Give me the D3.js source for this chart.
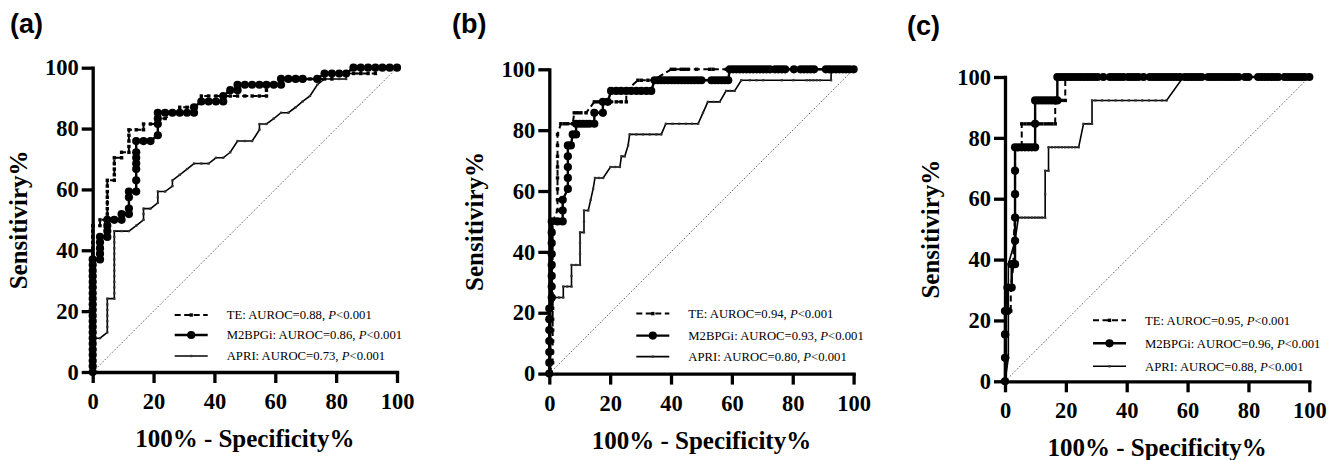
<!DOCTYPE html>
<html>
<head>
<meta charset="utf-8">
<script src="https://cdn.jsdelivr.net/npm/d3@7"></script>
<style>
	body { margin: 0; background: #fff; }
	svg { display: block; }
</style>
</head>
<body>
<svg id="chart" width="1338" height="460"></svg>
<script>
// tick values and legend text
const xTicks = [0, 20, 40, 60, 80, 100];
const yTicks = [0, 20, 40, 60, 80, 100];
const panelLabels = ['(a)', '(b)', '(c)'];
const seriesNames = ['TE', 'M2BPGi', 'APRI'];
const teAuroc = ['0.88', '0.94', '0.95'];
const m2bpgiAuroc = ['0.86', '0.93', '0.96'];
const apriAuroc = ['0.73', '0.80', '0.88'];

// (a) ROC points [100% - specificity, sensitivity]
const teA = [[0,0],[0,1.9],[0,3.7],[0,5.6],[0,7.4],[0,9.3],[0,11.1],[0,13],[0,14.8],[0,16.7],[0,18.5],[0,20.4],[0,22.2],[0,24.1],[0,25.9],[0,27.8],[0,29.6],[0,31.5],[0,33.3],[0,35.2],[0,37],[0,38.9],[0,40.7],[0,42.6],[0,44.4],[0,46.3],[0,48.1],[2.4,48.1],[2.4,50],[4.8,50],[4.8,51.9],[4.8,53.7],[4.8,55.6],[4.8,57.4],[4.8,59.3],[4.8,61.1],[4.8,63],[7.1,63],[7.1,64.8],[7.1,66.7],[7.1,68.5],[7.1,70.4],[9.5,70.4],[9.5,72.2],[11.9,72.2],[11.9,74.1],[11.9,75.9],[11.9,77.8],[11.9,79.6],[14.3,79.6],[16.7,79.6],[16.7,81.5],[19,81.5],[21.4,81.5],[21.4,83.3],[23.8,83.3],[26.2,85.2],[28.6,85.2],[28.6,87],[31,87],[33.3,87],[35.7,88.9],[35.7,90.7],[38.1,90.7],[40.5,90.7],[42.9,90.7],[45.2,90.7],[47.6,90.7],[50,90.7],[52.4,90.7],[54.8,90.7],[57.1,90.7],[57.1,92.6],[57.1,94.4],[59.5,94.4],[61.9,94.4],[61.9,96.3],[64.3,96.3],[66.7,96.3],[69,96.3],[71.4,96.3],[73.8,96.3],[76.2,96.3],[78.6,96.3],[78.6,98.1],[81,98.1],[83.3,98.1],[85.7,98.1],[88.1,98.1],[90.5,98.1],[92.9,98.1],[92.9,100],[100,100]];
const m2bpgiA = [[0,0],[0,1.9],[0,3.7],[0,5.6],[0,7.4],[0,9.3],[0,11.1],[0,13],[0,14.8],[0,16.7],[0,18.5],[0,20.4],[0,22.2],[0,24.1],[0,25.9],[0,27.8],[0,29.6],[0,31.5],[0,33.3],[0,35.2],[0,37],[2.4,37],[2.4,38.9],[2.4,40.7],[2.4,42.6],[2.4,44.4],[4.8,44.4],[4.8,46.3],[4.8,48.1],[4.8,50],[7.1,50],[9.5,50],[9.5,51.9],[11.9,51.9],[11.9,53.7],[11.9,57.4],[11.9,59.3],[14.3,59.3],[14.3,63],[14.3,66.7],[14.3,68.5],[14.3,70.4],[14.3,72.2],[14.3,75.9],[16.7,75.9],[19,75.9],[21.4,77.8],[21.4,81.5],[21.4,83.3],[21.4,85.2],[23.8,85.2],[26.2,85.2],[28.6,85.2],[31,85.2],[33.3,85.2],[33.3,87],[35.7,88.9],[38.1,88.9],[40.5,88.9],[42.9,88.9],[42.9,90.7],[45.2,92.6],[47.6,92.6],[47.6,94.4],[50,94.4],[52.4,94.4],[54.8,94.4],[57.1,94.4],[59.5,94.4],[61.9,94.4],[61.9,96.3],[64.3,96.3],[66.7,96.3],[69,96.3],[73.8,96.3],[76.2,98.1],[78.6,98.1],[81,98.1],[83.3,98.1],[85.7,100],[88.1,100],[90.5,100],[92.9,100],[95.2,100],[97.6,100],[100,100]];
const apriA = [[0,0],[0,1.9],[0,3.7],[0,5.6],[0,7.4],[0,9.3],[0,11.1],[2.4,11.1],[4.8,13],[4.8,14.8],[4.8,16.7],[4.8,18.5],[4.8,20.4],[4.8,22.2],[4.8,24.1],[7.1,24.1],[7.1,25.9],[7.1,27.8],[7.1,29.6],[7.1,31.5],[7.1,33.3],[7.1,35.2],[7.1,37],[7.1,38.9],[7.1,40.7],[7.1,42.6],[7.1,44.4],[7.1,46.3],[9.5,46.3],[11.9,46.3],[14.3,48.1],[16.7,50],[16.7,51.9],[16.7,53.7],[19,53.7],[21.4,55.6],[21.4,57.4],[21.4,59.3],[23.8,59.3],[26.2,61.1],[26.2,63],[28.6,64.8],[31,66.7],[33.3,68.5],[35.7,68.5],[38.1,68.5],[40.5,70.4],[42.9,70.4],[45.2,72.2],[47.6,75.9],[50,75.9],[52.4,75.9],[54.8,79.6],[54.8,81.5],[57.1,81.5],[59.5,83.3],[61.9,85.2],[64.3,85.2],[66.7,87],[69,88.9],[71.4,90.7],[73.8,94.4],[76.2,96.3],[78.6,96.3],[81,96.3],[83.3,96.3],[83.3,98.1],[85.7,98.1],[88.1,98.1],[88.1,100],[100,100]];

// (b)
const teB = [[0,0],[1.1,3.6],[1.1,7.1],[1.1,10.7],[1.1,14.3],[1.1,17.9],[1.1,21.4],[1.1,25],[1.1,28.6],[1.1,32.1],[1.1,35.7],[1.1,39.3],[1.1,42.9],[1.1,46.4],[1.1,50],[2.7,53.6],[2.7,57.1],[2.7,60.7],[2.7,64.3],[2.7,67.9],[2.7,71.4],[2.7,75],[2.7,78.6],[3.8,82.1],[4.9,82.1],[6,82.1],[7.7,82.1],[8.2,85.7],[9.3,85.7],[10.4,85.7],[12.1,85.7],[14.8,89.3],[15.9,89.3],[17,89.3],[18.7,89.3],[20.3,89.3],[22,89.3],[23.6,89.3],[25.3,89.3],[25.3,92.9],[29.1,96.4],[30.2,96.4],[32.4,96.4],[34.1,96.4],[40.1,100],[41.2,100],[43.4,100],[44.5,100],[45.6,100],[48.4,100],[52.7,100],[53.8,100],[58.2,100],[100,100]];
const m2bpgiB = [[0,0],[0,3.6],[0,7.1],[0,10.7],[0,14.3],[0,17.9],[0,21.4],[0.8,25],[0.8,28.6],[0.8,32.1],[0.8,35.7],[0.8,39.3],[0.8,42.9],[0.8,46.4],[0.8,50],[2.7,50],[4.4,50],[4.4,53.6],[4.4,57.1],[6.1,60.7],[6.1,64.3],[6.1,67.9],[6.1,71.4],[6.1,75],[7.1,75],[7.7,78.6],[8.8,78.6],[8.8,82.1],[9.9,82.1],[11,82.1],[12.1,82.1],[13.2,82.1],[14.8,82.1],[14.8,85.7],[17.6,85.7],[17.6,89.3],[19.2,89.3],[20.3,92.9],[22,92.9],[23.6,92.9],[25.3,92.9],[26.9,92.9],[28.6,92.9],[30.2,92.9],[31.9,92.9],[33.5,92.9],[34.6,96.4],[35.7,96.4],[36.8,96.4],[37.9,96.4],[39,96.4],[40.1,96.4],[41.2,96.4],[42.3,96.4],[43.4,96.4],[44.5,96.4],[45.6,96.4],[46.7,96.4],[47.8,96.4],[48.9,96.4],[50,96.4],[53.3,96.4],[54.4,96.4],[55.5,96.4],[56.6,96.4],[57.7,96.4],[58.8,96.4],[59.3,100],[60.4,100],[61.5,100],[62.6,100],[63.7,100],[64.8,100],[65.9,100],[67,100],[68.1,100],[69.2,100],[70.3,100],[71.4,100],[72.5,100],[74.2,100],[75.3,100],[76.4,100],[77.5,100],[80.4,100],[82.6,100],[83.7,100],[84.8,100],[85.9,100],[87,100],[90.9,100],[92,100],[93.1,100],[94.2,100],[95.3,100],[96.4,100],[97.5,100],[98.6,100],[100,100]];
const apriB = [[0,0],[0,3.6],[0,7.1],[0,10.7],[0,14.3],[0,17.9],[0,21.4],[1.9,25],[3.2,25],[4.6,25],[4.6,28.6],[5.9,28.6],[7.3,28.6],[7.3,32.1],[7.3,35.7],[8.7,35.7],[10.1,35.7],[10.1,39.3],[10.1,42.9],[10.1,46.4],[11.4,46.4],[11.4,50],[11.4,53.6],[12.8,53.6],[13.6,57.1],[14.4,60.7],[15,64.3],[16.3,64.3],[17.7,64.3],[20.1,67.9],[21.6,67.9],[23.2,67.9],[23.7,71.4],[24.8,71.4],[25.9,75],[26.4,78.6],[28.6,78.6],[30.8,78.6],[33,78.6],[35.2,78.6],[36.8,78.6],[38.3,82.1],[40.5,82.1],[42.7,82.1],[44.9,82.1],[46.9,82.1],[48.9,82.1],[50.5,85.7],[52.1,89.3],[54,89.3],[56,89.3],[58.1,92.9],[59.5,92.9],[60.9,92.9],[63.1,96.4],[65.9,96.4],[68.1,96.4],[70.3,96.4],[76.4,96.4],[80.2,96.4],[84.6,96.4],[85.7,96.4],[86.8,96.4],[87.9,96.4],[89,96.4],[92.6,96.4],[92.6,100],[100,100]];

// (c)
const teC = [[0,0],[0,7.7],[0,15.4],[0,23.1],[1.9,23.1],[1.9,30.8],[2.8,38.5],[2.8,46.2],[3.3,53.8],[3.3,61.5],[3.3,69.2],[3.3,76.9],[4.4,76.9],[5.5,76.9],[5.5,84.6],[6.6,84.6],[7.7,84.6],[8.8,84.6],[9.9,84.6],[11,84.6],[12.1,84.6],[13.2,84.6],[14.3,84.6],[15.4,84.6],[16.5,84.6],[16.5,92.3],[17.6,92.3],[18.7,92.3],[19.8,92.3],[19.8,100],[100,100]];
const m2bpgiC = [[0,0],[0,7.7],[0,15.4],[0,23.1],[0.8,23.1],[0.8,30.8],[2.2,30.8],[2.2,38.5],[3.3,38.5],[3.3,46.2],[3.3,53.8],[3.3,61.5],[3.3,69.2],[3.3,76.9],[4.4,76.9],[5.5,76.9],[6.6,76.9],[7.7,76.9],[8.8,76.9],[9.9,76.9],[9.9,84.6],[9.9,92.3],[11,92.3],[12.1,92.3],[13.2,92.3],[14.3,92.3],[15.4,92.3],[16.5,92.3],[17.2,92.3],[17.2,100],[18.3,100],[19.4,100],[20.5,100],[21.6,100],[22.7,100],[23.8,100],[24.9,100],[26,100],[27.1,100],[28.2,100],[29.3,100],[30.4,100],[32.3,100],[34.5,100],[35.6,100],[36.7,100],[37.8,100],[38.9,100],[40.5,100],[41.6,100],[42.7,100],[43.8,100],[45.5,100],[47.6,100],[48.7,100],[49.8,100],[50.9,100],[52,100],[53.1,100],[54.2,100],[55.3,100],[56.4,100],[57.5,100],[59.1,100],[60.2,100],[61.3,100],[62.4,100],[63.5,100],[64.6,100],[66.8,100],[67.9,100],[69,100],[70.1,100],[71.2,100],[72.3,100],[73.4,100],[74.5,100],[75.6,100],[76.7,100],[78.9,100],[80,100],[83.2,100],[84.3,100],[85.4,100],[86.5,100],[87.6,100],[88.7,100],[89.8,100],[91.9,100],[93,100],[94.1,100],[95.2,100],[96.3,100],[97.4,100],[98.5,100],[100,100]];
const apriC = [[0,0],[1.1,7.7],[1.1,15.4],[1.1,23.1],[1.1,30.8],[1.1,38.5],[3.3,46.2],[4.4,53.8],[5.5,53.8],[6.6,53.8],[7.7,53.8],[8.8,53.8],[9.9,53.8],[11,53.8],[12.1,53.8],[13.2,53.8],[13.2,61.5],[13.2,69.2],[14.3,69.2],[14.3,76.9],[15.4,76.9],[16.5,76.9],[17.6,76.9],[18.7,76.9],[19.8,76.9],[20.9,76.9],[22,76.9],[23.1,76.9],[24.2,76.9],[25.8,84.6],[27.5,84.6],[28.6,84.6],[28.6,92.3],[29.7,92.3],[31.9,92.3],[34.1,92.3],[36.3,92.3],[38.5,92.3],[40.7,92.3],[42.9,92.3],[45.1,92.3],[47.3,92.3],[49.5,92.3],[51.6,92.3],[53.1,92.3],[58.6,100],[100,100]];

const teData = [teA, teB, teC];
const m2bpgiData = [m2bpgiA, m2bpgiB, m2bpgiC];
const apriData = [apriA, apriB, apriC];

// layout of each panel (pixel position of the plot area)
const PLOT = 304.3;
const panels = [
	{ left: 92.7, top: 67.7, labelX: 10, labelY: 33, legX: 82, legRows: [-57, -37, -16] },
	{ left: 549.3, top: 69.3, labelX: 452, labelY: 33, legX: 87, legRows: [-60, -38, -17] },
	{ left: 1005, top: 77, labelX: 907, labelY: 35, legX: 88, legRows: [-61, -38, -15] }
];

const SERIF = '"Liberation Serif", "Times New Roman", serif';
const svg = d3.select('#chart');

const styles = [
	{ width: 2, dash: '6,3.5', marker: 'square' },
	{ width: 2.4, dash: null, marker: 'circle' },
	{ width: 1.6, dash: null, marker: 'tiny' }
];

function drawMarker(g, type, cx, cy) {
	if (type == 'circle') {
		return g.append('circle').attr('cx', cx).attr('cy', cy).attr('r', 4.1).attr('fill', '#000');
	}
	const s = type == 'square' ? 3.4 : 2.3;
	return g.append('rect')
		.attr('x', cx - s / 2).attr('y', cy - s / 2)
		.attr('width', s).attr('height', s)
		.attr('fill', type == 'square' ? '#000' : '#333');
}

panels.forEach((p, i) => {
	const g = svg.append('g').attr('transform', `translate(${p.left},${p.top})`);

	const x = d3.scaleLinear().domain([0, 100]).range([0, PLOT]);
	const y = d3.scaleLinear().domain([0, 100]).range([PLOT, 0]);

	// chance line
	g.append('line')
		.attr('x1', x(0)).attr('y1', y(0)).attr('x2', x(100)).attr('y2', y(100))
		.attr('stroke', '#555').attr('stroke-width', 0.9).attr('stroke-dasharray', '1.6,1.8');

	const xAxis = g => g
		.attr('transform', `translate(0,${PLOT})`)
		.call(d3.axisBottom(x).tickValues(xTicks).tickSize(11).tickSizeOuter(0).tickPadding(10));
	const yAxis = g => g
		.call(d3.axisLeft(y).tickValues(yTicks).tickSize(11).tickSizeOuter(0).tickPadding(3));

	[g.append('g').call(xAxis), g.append('g').call(yAxis)].forEach(a => {
		a.select('.domain').attr('stroke-width', 3.3).attr('stroke-linecap', 'square');
		a.selectAll('.tick line').attr('stroke-width', 3.3);
		a.selectAll('.tick text')
			.style('font-family', SERIF).style('font-weight', 'bold').style('font-size', '22.5px')
			.attr('fill', '#000');
	});

	// curves: APRI, TE, then M2BPGi on top
	const line = d3.line().x(d => x(d[0])).y(d => y(d[1]));
	const sets = [apriData[i], teData[i], m2bpgiData[i]];
	const order = [2, 0, 1];
	sets.forEach((pts, k) => {
		const st = styles[order[k]];
		const sg = g.append('g');
		sg.append('path').datum(pts).attr('d', line)
			.attr('fill', 'none').attr('stroke', '#000')
			.attr('stroke-width', st.width)
			.attr('stroke-dasharray', st.dash);
		pts.forEach(d => drawMarker(sg, st.marker, x(d[0]), y(d[1])));
	});

	// legend
	const labels = [
		seriesNames[0] + ': AUROC=' + teAuroc[i] + ', ',
		seriesNames[1] + ': AUROC=' + m2bpgiAuroc[i] + ', ',
		seriesNames[2] + ': AUROC=' + apriAuroc[i] + ', '
	];
	labels.forEach((t, k) => {
		const st = styles[k];
		const ly = PLOT + p.legRows[k];
		const lg = g.append('g');
		lg.append('line')
			.attr('x1', p.legX).attr('x2', p.legX + 33).attr('y1', ly).attr('y2', ly)
			.attr('stroke', '#000').attr('stroke-width', st.width)
			.attr('stroke-dasharray', st.dash);
		drawMarker(lg, st.marker, p.legX + 16.5, ly);
		const txt = lg.append('text')
			.attr('x', p.legX + 52).attr('y', ly + 4.5)
			.style('font-family', SERIF).style('font-size', '12.7px');
		txt.append('tspan').text(t);
		txt.append('tspan').style('font-style', 'italic').text('P');
		txt.append('tspan').text('<0.001');
	});

	// axis titles
	g.append('text')
		.attr('x', PLOT / 2).attr('y', PLOT + 75)
		.attr('text-anchor', 'middle')
		.style('font-family', SERIF).style('font-weight', 'bold').style('font-size', '25px')
		.text('100% - Specificity%');
	g.append('text')
		.attr('transform', `translate(-66,${PLOT / 2}) rotate(-90)`)
		.attr('text-anchor', 'middle')
		.style('font-family', SERIF).style('font-weight', 'bold').style('font-size', '25px')
		.text('Sensitiviry%');

	svg.append('text')
		.attr('x', p.labelX).attr('y', p.labelY)
		.style('font-family', '"Liberation Sans", Arial, sans-serif')
		.style('font-weight', 'bold').style('font-size', '27px')
		.text(panelLabels[i]);
});
</script>
</body>
</html>
